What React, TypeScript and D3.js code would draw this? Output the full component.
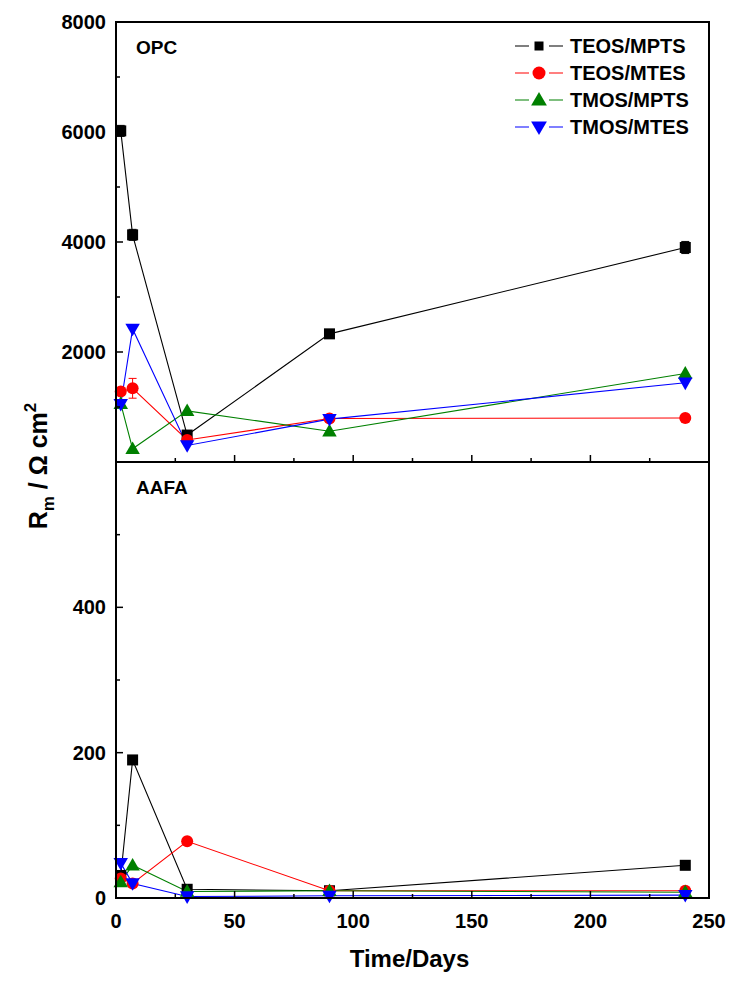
import React from 'react';
import * as d3 from 'd3';

// sampling days
const days = [2, 7, 30, 90, 240];

const seriesNames = ['TEOS/MPTS', 'TEOS/MTES', 'TMOS/MPTS', 'TMOS/MTES'];
const seriesColors = ['#000000', '#ff0000', '#008000', '#0000ff'];
const seriesShapes = ['square', 'circle', 'triangle', 'triangleDown'];

// OPC panel, Rm in ohm cm2
const opcTeosMpts = [6020, 4130, 490, 2330, 3900];
const opcTeosMtes = [1280, 1340, 400, 790, 800];
const opcTmosMpts = [1060, 240, 930, 560, 1610];
const opcTmosMtes = [1050, 2420, 300, 780, 1440];
const opcErrTeosMpts = [100, 100, 0, 0, 110];
const opcErrTeosMtes = [0, 180, 0, 0, 0];

// AAFA panel
const aafaTeosMpts = [31, 190, 12, 10, 45];
const aafaTeosMtes = [27, 20, 78, 10, 10];
const aafaTmosMpts = [22, 45, 9, 10, 8];
const aafaTmosMtes = [48, 20, 2, 3, 4];

const opcTicks = [2000, 4000, 6000, 8000];
const aafaTicks = [0, 200, 400];
const xTicks = [0, 50, 100, 150, 200, 250];

const W = 731;
const H = 983;
const left = 116;
const right = 709;
const top1 = 22;
const mid = 462;
const bottom = 898;
const font = '"Liberation Sans", Arial, sans-serif';

const x = d3.scaleLinear().domain([0, 250]).range([left, right]);
const yTop = d3.scaleLinear().domain([0, 8000]).range([mid, top1]);
const yBot = d3.scaleLinear().domain([0, 600]).range([bottom, mid]);

function Marker({ shape, cx, cy, color, size = 11 }) {
  const r = size / 2;
  if (shape === 'square') return <rect x={cx - r} y={cy - r} width={size} height={size} fill={color} />;
  if (shape === 'circle') return <circle cx={cx} cy={cy} r={r + 0.5} fill={color} />;
  const sym = d3.symbol().type(d3.symbolTriangle).size(size * size * 0.75)();
  return (
    <path
      d={sym}
      fill={color}
      transform={`translate(${cx},${cy + (shape === 'triangle' ? 1 : -1)}) rotate(${shape === 'triangle' ? 0 : 180})`}
    />
  );
}

function Panel({ y, series, errors, majors, minors, label, showLabels }) {
  const line = d3.line<number>().x((_, i) => x(days[i])).y(v => y(v));
  const [y0, y1] = y.range();
  return (
    <g>
      {series.map((vals, s) => (
        <path key={'l' + s} d={line(vals) || ''} fill="none" stroke={seriesColors[s]} strokeWidth={1.1} />
      ))}
      {errors.map((errs, s) =>
        errs.map((e, i) =>
          e > 0 ? (
            <g key={`e${s}-${i}`} stroke={seriesColors[s]} strokeWidth={1}>
              <line x1={x(days[i])} x2={x(days[i])} y1={y(series[s][i] - e)} y2={y(series[s][i] + e)} />
              <line x1={x(days[i]) - 4} x2={x(days[i]) + 4} y1={y(series[s][i] - e)} y2={y(series[s][i] - e)} />
              <line x1={x(days[i]) - 4} x2={x(days[i]) + 4} y1={y(series[s][i] + e)} y2={y(series[s][i] + e)} />
            </g>
          ) : null
        )
      )}
      {series.map((vals, s) =>
        vals.map((v, i) => (
          <Marker key={`m${s}-${i}`} shape={seriesShapes[s]} cx={x(days[i])} cy={y(v)} color={seriesColors[s]} />
        ))
      )}
      {/* frame */}
      <rect x={left} y={y1} width={right - left} height={y0 - y1} fill="none" stroke="#000" strokeWidth={2} />
      {majors.map(t => (
        <g key={'yt' + t}>
          <line x1={left} x2={left + 7} y1={y(t)} y2={y(t)} stroke="#000" strokeWidth={1.5} />
          {showLabels.includes(t) && (
            <text x={left - 10} y={y(t)} dy="0.35em" textAnchor="end" fontFamily={font} fontWeight="bold" fontSize={20}>
              {t}
            </text>
          )}
        </g>
      ))}
      {minors.map(t => (
        <line key={'ym' + t} x1={left} x2={left + 4} y1={y(t)} y2={y(t)} stroke="#000" strokeWidth={1.5} />
      ))}
      {d3.range(0, 251, 25).map(t => (
        <line
          key={'xt' + t}
          x1={x(t)}
          x2={x(t)}
          y1={y0}
          y2={y0 - (t % 50 === 0 ? 7 : 4)}
          stroke="#000"
          strokeWidth={1.5}
        />
      ))}
      <text x={136} y={y1 + 32} fontFamily={font} fontWeight="bold" fontSize={19}>
        {label}
      </text>
    </g>
  );
}

export default function App() {
  return (
    <svg width={W} height={H} style={{ display: 'block', position: 'absolute', left: 0, top: 0, background: '#fff' }}>
      <Panel
        y={yTop}
        series={[opcTeosMpts, opcTeosMtes, opcTmosMpts, opcTmosMtes]}
        errors={[opcErrTeosMpts, opcErrTeosMtes, [], []]}
        majors={[0, ...opcTicks]}
        minors={[1000, 3000, 5000, 7000]}
        showLabels={opcTicks}
        label="OPC"
      />
      <Panel
        y={yBot}
        series={[aafaTeosMpts, aafaTeosMtes, aafaTmosMpts, aafaTmosMtes]}
        errors={[[], [], [], []]}
        majors={aafaTicks}
        minors={[100, 300, 500]}
        showLabels={aafaTicks}
        label="AAFA"
      />
      {xTicks.map(t => (
        <text key={'xl' + t} x={x(t)} y={bottom + 30} textAnchor="middle" fontFamily={font} fontWeight="bold" fontSize={20}>
          {t}
        </text>
      ))}
      <text x={(left + right) / 2 - 3} y={967} textAnchor="middle" fontFamily={font} fontWeight="bold" fontSize={24}>
        Time/Days
      </text>
      <text
        transform={`translate(47,${mid + 4}) rotate(-90)`}
        textAnchor="middle"
        fontFamily={font}
        fontWeight="bold"
        fontSize={25}
      >
        R<tspan fontSize={17} dy={7}>m</tspan>
        <tspan dy={-7}> / Ω cm</tspan>
        <tspan fontSize={17} dy={-11}>2</tspan>
      </text>
      {/* legend */}
      {seriesNames.map((n, i) => {
        const ly = 46 + i * 27;
        return (
          <g key={n}>
            <line x1={515} x2={563} y1={ly} y2={ly} stroke={seriesColors[i]} strokeWidth={1.1} />
            <rect x={529} y={ly - 6} width={20} height={12} fill="#fff" />
            <Marker shape={seriesShapes[i]} cx={539} cy={ly} color={seriesColors[i]} size={i === 0 ? 9 : 12} />
            <text x={570} y={ly} dy="0.36em" fontFamily={font} fontWeight="bold" fontSize={20}>
              {n}
            </text>
          </g>
        );
      })}
    </svg>
  );
}
